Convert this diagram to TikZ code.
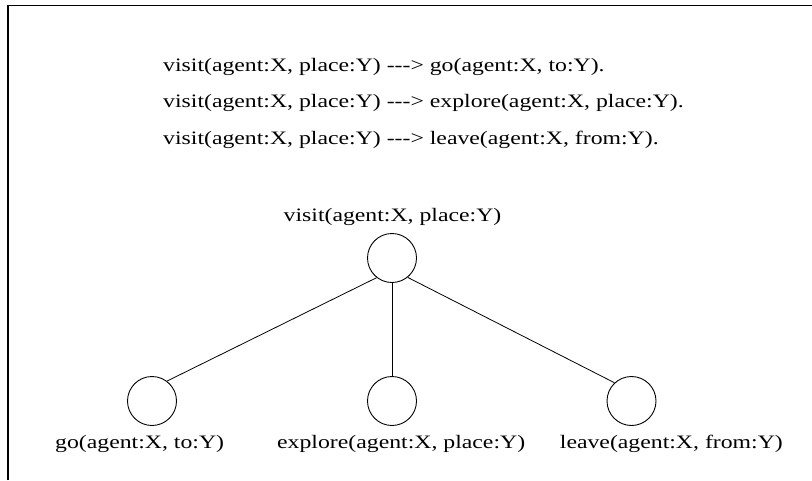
\documentclass[tikz,border=0pt]{standalone}
\usepackage{fontspec}
\setmainfont{Liberation Serif}[Ligatures=TeXOff]
% one slightly widened serif face for every text
\newfontfamily\diagfont{Liberation Serif}[Ligatures=TeXOff,FakeStretch=1.25]
\begin{document}
\begin{tikzpicture}[x=1pt,y=-1pt,
  txt/.style={inner sep=0pt,font=\diagfont\fontsize{19}{22}\selectfont},
  rule/.style={txt,anchor=base west},
  tnode/.style={circle,draw,line width=0.9pt,minimum size=49pt,inner sep=0pt},
  edge/.style={line width=0.8pt}]
\useasboundingbox (0,0) rectangle (812,480);
% frame
\draw[line width=1.3pt] (8,480) -- (8,5.5) -- (812,5.5);
% rewrite rules
\node[rule] (r1) at (163,71) {visit(agent:X, place:Y) ---> go(agent:X, to:Y).};
\node[rule] (r2) at (163,107.5) {visit(agent:X, place:Y) ---> explore(agent:X, place:Y).};
\node[rule] (r3) at (163,144) {visit(agent:X, place:Y) ---> leave(agent:X, from:Y).};
% tree
\node[tnode] (root) at (392,258) {};
\node[tnode] (go) at (152,401) {};
\node[tnode] (ex) at (392,401) {};
\node[tnode] (lv) at (631.5,401) {};
\node[txt,anchor=base] (lroot) at (392.5,221.5) {visit(agent:X, place:Y)};
\node[txt,anchor=base west] (lgo) at (55,448) {go(agent:X, to:Y)};
\node[txt,anchor=base west] (lex) at (277,448) {explore(agent:X, place:Y)};
\node[txt,anchor=base east] (llv) at (783,448) {leave(agent:X, from:Y)};
\draw[edge] (root.232) -- (go.53);
\draw[edge] (root.south) -- (ex.north);
\draw[edge] (root.-51) -- (lv.133);
\end{tikzpicture}
\end{document}
